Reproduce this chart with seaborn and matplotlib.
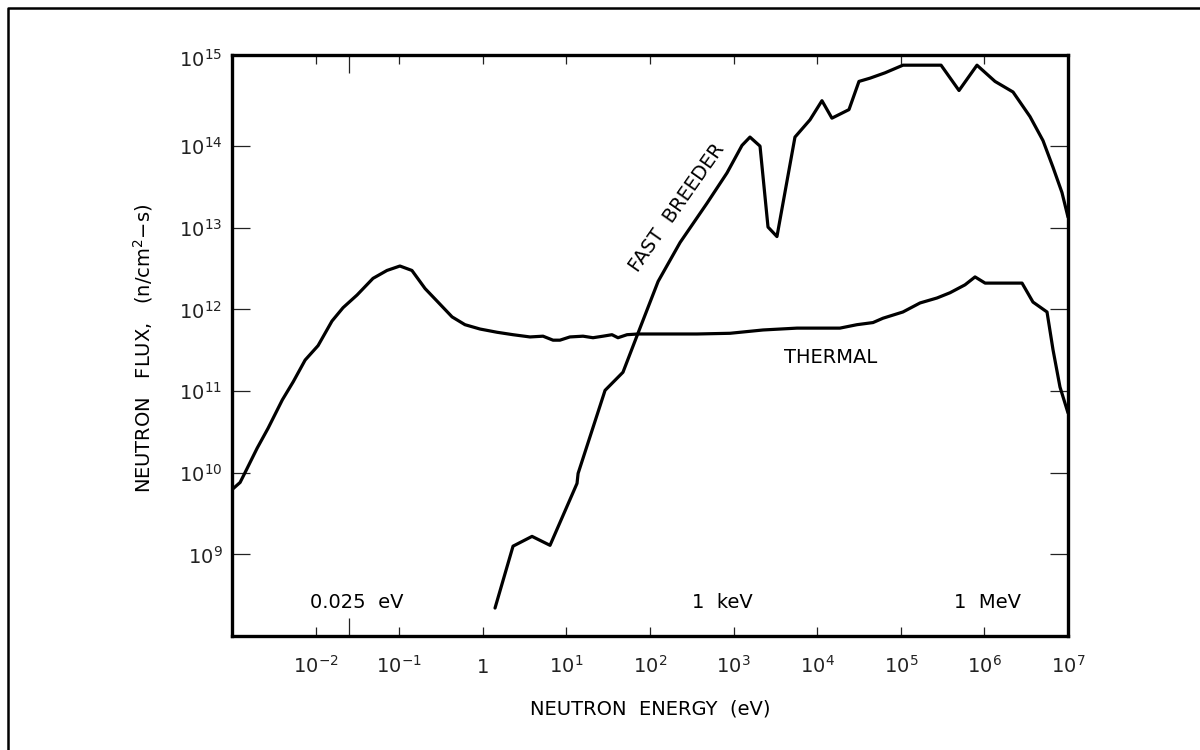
import matplotlib
matplotlib.use("Agg")
import numpy as np
import pandas as pd
import matplotlib.pyplot as plt
import seaborn as sns
from matplotlib.ticker import FixedLocator, FixedFormatter, NullLocator, NullFormatter
from matplotlib.lines import Line2D
from matplotlib.transforms import ScaledTranslation

# ---------------- data ----------------
thermal_energy = [1.0e-3, 1.25e-3, 1.43e-3, 2.0e-3, 2.7e-3, 4.0e-3, 5.4e-3, 7.5e-3,
                  1.07e-2, 1.57e-2, 2.13e-2, 3.13e-2, 4.86e-2, 7.14e-2, 0.102, 0.142,
                  0.204, 0.291, 0.429, 0.612, 0.927, 1.48, 2.30, 3.67, 5.25, 6.92,
                  8.37, 11.0, 15.8, 20.8, 27.4, 35.1, 41.4, 53.1, 71.8, 143, 365, 906,
                  2250, 5730, 1.87e4, 2.99e4, 4.65e4, 6.12e4, 1.06e5, 1.70e5, 2.71e5,
                  3.88e5, 5.86e5, 7.73e5, 1.02e6, 1.42e6, 2.20e6, 2.82e6, 3.81e6,
                  5.61e6, 6.62e6, 8.02e6, 1.0e7]
thermal_flux = [6.2e9, 7.6e9, 1.0e10, 2.0e10, 3.5e10, 7.8e10, 1.3e11, 2.4e11,
                3.6e11, 7.2e11, 1.05e12, 1.5e12, 2.4e12, 3.0e12, 3.4e12, 3.0e12,
                1.8e12, 1.23e12, 8.1e11, 6.5e11, 5.75e11, 5.25e11, 4.9e11, 4.6e11,
                4.7e11, 4.2e11, 4.2e11, 4.6e11, 4.7e11, 4.5e11, 4.7e11, 4.9e11,
                4.5e11, 4.9e11, 5.0e11, 5.0e11, 5.0e11, 5.1e11, 5.6e11, 5.9e11,
                5.9e11, 6.5e11, 6.9e11, 7.8e11, 9.3e11, 1.2e12, 1.38e12, 1.6e12,
                2.0e12, 2.5e12, 2.1e12, 2.1e12, 2.1e12, 2.1e12, 1.23e12, 9.3e11,
                3.2e11, 1.12e11, 5.4e10]

fast_energy = [1.40, 2.30, 3.88, 6.37, 13.4, 13.8, 29.0, 47.5, 71.8, 125, 229, 481,
               834, 1260, 1570, 2070, 2580, 3300, 5420, 8200, 1.14e4, 1.50e4,
               2.40e4, 3.16e4, 4.29e4, 6.47e4, 1.06e5, 3.03e5, 4.97e5, 8.15e5,
               1.34e6, 2.20e6, 3.51e6, 5.02e6, 6.62e6, 8.47e6, 1.0e7]
fast_flux = [2.2e8, 1.26e9, 1.66e9, 1.29e9, 7.4e9, 9.8e9, 1.02e11, 1.7e11, 5.1e11,
             2.2e12, 6.6e12, 2.0e13, 4.7e13, 1.02e14, 1.29e14, 1.0e14, 1.02e13,
             7.8e12, 1.29e14, 2.1e14, 3.6e14, 2.2e14, 2.8e14, 6.2e14, 6.8e14,
             7.9e14, 9.8e14, 9.8e14, 4.8e14, 9.8e14, 6.2e14, 4.6e14, 2.3e14,
             1.17e14, 5.5e13, 2.7e13, 1.35e13]

xtick_values = [1e-2, 1e-1, 1, 1e1, 1e2, 1e3, 1e4, 1e5, 1e6, 1e7]
xtick_labels = [r"$10^{-2}$", r"$10^{-1}$", r"$1$", r"$10^{1}$", r"$10^{2}$",
                r"$10^{3}$", r"$10^{4}$", r"$10^{5}$", r"$10^{6}$", r"$10^{7}$"]
marker_energies = [0.025, 1e3, 1e6]
marker_labels = ["0.025  eV", "1  keV", "1  MeV"]
ytick_values = [1e9, 1e10, 1e11, 1e12, 1e13, 1e14, 1e15]
ytick_labels = [r"$10^{9}$", r"$10^{10}$", r"$10^{11}$", r"$10^{12}$",
                r"$10^{13}$", r"$10^{14}$", r"$10^{15}$"]
curve_labels = ["THERMAL", "FAST  BREEDER"]

# ---------------- styling ----------------
sns.set_theme(style="white")
plt.rcParams["font.family"] = ["DejaVu Sans"]
plt.rcParams["axes.edgecolor"] = "black"
plt.rcParams["text.color"] = "black"
plt.rcParams["axes.labelcolor"] = "black"
plt.rcParams["xtick.color"] = "#222222"
plt.rcParams["ytick.color"] = "#222222"

FS = 14

fig = plt.figure(figsize=(12, 7.5), dpi=100)
ax = fig.add_axes([232 / 1200, 1 - 636 / 750, (1068 - 232) / 1200, (636 - 55) / 750])

df = pd.concat([
    pd.DataFrame({"energy": thermal_energy, "flux": thermal_flux, "spectrum": curve_labels[0]}),
    pd.DataFrame({"energy": fast_energy, "flux": fast_flux, "spectrum": curve_labels[1]}),
], ignore_index=True)

sns.lineplot(data=df, x="energy", y="flux", units="spectrum", estimator=None,
             sort=False, color="black", linewidth=2.3, ax=ax, legend=False)

ax.set_xscale("log")
ax.set_yscale("log")
ax.set_xlim(1e-3, 1e7)
ax.set_ylim(1e8, 10 ** 15.116)

for s in ax.spines.values():
    s.set_linewidth(2.4)
    s.set_color("black")

ax.xaxis.set_major_locator(FixedLocator(xtick_values))
ax.xaxis.set_major_formatter(FixedFormatter(xtick_labels))
ax.xaxis.set_minor_locator(FixedLocator(marker_energies))
ax.xaxis.set_minor_formatter(NullFormatter())
ax.yaxis.set_major_locator(FixedLocator(ytick_values))
ax.yaxis.set_major_formatter(FixedFormatter(ytick_labels))
ax.yaxis.set_minor_locator(NullLocator())

ax.tick_params(axis="x", which="major", direction="in", top=True, bottom=True,
               length=6.5, width=0.9, labelsize=FS, pad=26.5)
ax.tick_params(axis="x", which="minor", direction="in", top=True, bottom=True,
               length=13, width=0.9)
ax.tick_params(axis="y", which="major", direction="in", left=True, right=True,
               length=13, width=0.9, labelsize=FS, pad=7)
for lab in ax.get_xticklabels():
    lab.set_verticalalignment("baseline")

yt = ax.yaxis.get_major_ticks()
yt[-1].tick1line.set_visible(False)
yt[-1].tick2line.set_visible(False)
yt[-1].label1.set_transform(yt[-1].label1.get_transform()
                            + ScaledTranslation(0, 7 / 100, fig.dpi_scale_trans))

ax.set_xlabel("NEUTRON  ENERGY  (eV)", fontsize=FS)
ax.xaxis.set_label_coords(0.5, -0.110)
ax.xaxis.label.set_verticalalignment("top")
ax.set_ylabel(r"NEUTRON   FLUX,   (n/cm$^{2}$$-$s)", fontsize=FS)
ax.yaxis.set_label_coords(-0.092, 0.496)

# marker energy labels
for xf, txt in zip([0.1495, 0.586, 0.904], marker_labels):
    ax.text(xf, 0.0585, txt, transform=ax.transAxes, ha="center", va="center", fontsize=FS)

ax.text(0.7165, 0.4785, curve_labels[0], transform=ax.transAxes, ha="center",
        va="center", fontsize=FS)
ax.text(0.532, 0.738, curve_labels[1], transform=ax.transAxes, ha="center",
        va="center", fontsize=FS, rotation=55, rotation_mode="anchor")

fig.add_artist(Line2D([8 / 1200, 8 / 1200, 1.0], [0.0, 1 - 8 / 750, 1 - 8 / 750],
                      transform=fig.transFigure, color="black", linewidth=1.8))

fig.savefig("out.png", dpi=100)
